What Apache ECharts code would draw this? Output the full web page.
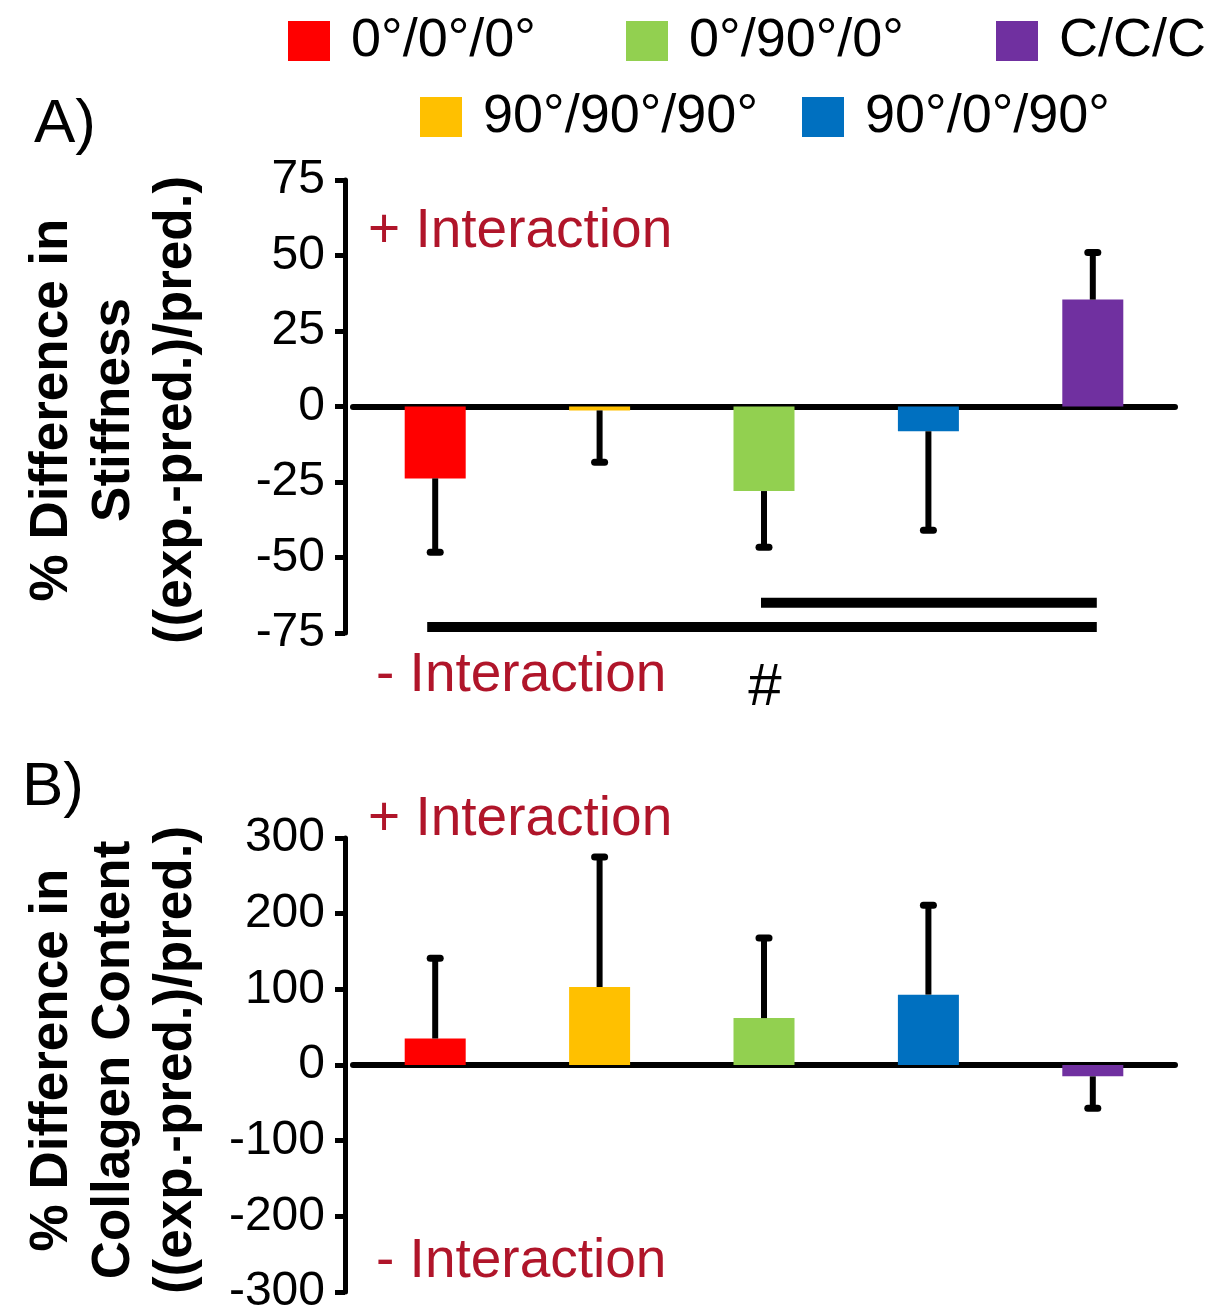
<!DOCTYPE html>
<html><head><meta charset="utf-8">
<script src="https://cdn.jsdelivr.net/npm/echarts@6/dist/echarts.min.js"></script>
<style>html,body{margin:0;padding:0;background:#fff}#c{width:1216px;height:1316px}</style>
</head><body><div id="c"></div>
<script>
// ---- data ----
const groups = ['0°/0°/0°', '90°/90°/90°', '0°/90°/0°', '90°/0°/90°', 'C/C/C'];
const colors = ['#FF0000', '#FFC000', '#92D050', '#0070C0', '#7030A0'];
const stiffMean = [-23.8, -1.3, -28.0, -8.2, 35.4];
const stiffSD = [24.5, 17.2, 18.6, 32.8, 15.6];
const collMean = [35, 103, 62, 93, -15];
const collSD = [106, 172, 106, 118, 42];
const stiffAxis = { min: -75, max: 75, interval: 25 };
const collAxis = { min: -300, max: 300, interval: 100 };
// significance bars in panel A: [fromIndex, toIndex, yValue]
const sigBars = [[2, 4, -65], [0, 4, -73]];

// ---- chart ----
const FONT = '"Liberation Sans", Arial, sans-serif';
const chart = echarts.init(document.getElementById('c'), null, { renderer: 'canvas' });

function barSeries(means, gi) {
  return groups.map((g, i) => ({
    type: 'bar', name: g, xAxisIndex: gi, yAxisIndex: gi,
    data: groups.map((_, j) => (j === i ? means[i] : '-')),
    barWidth: 61, barGap: '-100%',
    itemStyle: { color: colors[i] }, z: 2, silent: true
  }));
}
function errSeries(means, sds, gi) {
  return {
    type: 'custom', xAxisIndex: gi, yAxisIndex: gi, z: 3, silent: true,
    data: groups.map((g, i) => [i, means[i], means[i] + Math.sign(means[i]) * sds[i]]),
    encode: { x: 0, y: [1, 2] },
    renderItem: function (params, api) {
      const x = api.value(0);
      const p0 = api.coord([x, api.value(1)]);
      const p1 = api.coord([x, api.value(2)]);
      return { type: 'group', children: [
        { type: 'line', shape: { x1: p0[0], y1: p0[1], x2: p1[0], y2: p1[1] }, style: { stroke: '#000', lineWidth: 6 } },
        { type: 'line', shape: { x1: p1[0] - 5, y1: p1[1], x2: p1[0] + 5, y2: p1[1] }, style: { stroke: '#000', lineWidth: 7, lineCap: 'round' } }
      ] };
    }
  };
}

const axisCommonY = (ax) => ({
  type: 'value', min: ax.min, max: ax.max, interval: ax.interval, offset: 8,
  axisLine: { show: true, onZero: false, lineStyle: { color: '#000', width: 5 } },
  axisTick: { show: true, inside: false, length: 10, lineStyle: { color: '#000', width: 5 } },
  axisLabel: { color: '#000', fontSize: 48, fontFamily: FONT, margin: 20 },
  splitLine: { show: false }
});
const axisCommonX = (gi) => ({
  type: 'category', gridIndex: gi, data: groups,
  axisLine: { show: true, onZero: true, lineStyle: { color: '#000', width: 6 } },
  axisTick: { show: false }, axisLabel: { show: false }, splitLine: { show: false }
});

const sigSeries = {
  type: 'custom', xAxisIndex: 0, yAxisIndex: 0, z: 4, silent: true,
  data: sigBars, encode: { x: [0, 1], y: 2 },
  renderItem: function (params, api) {
    const a = api.coord([api.value(0), api.value(2)]);
    const b = api.coord([api.value(1), api.value(2)]);
    return { type: 'line', shape: { x1: a[0] - (api.value(0) === 0 ? 8 : 3), y1: a[1], x2: b[0] + 4, y2: b[1] },
      style: { stroke: '#000', lineWidth: 10 } };
  }
};

const legendStyle = {
  icon: 'rect', itemWidth: 42, itemHeight: 40, padding: 0, selectedMode: false,
  textStyle: { fontSize: 54, fontFamily: FONT, color: '#000', padding: [0, 0, 0, 16], lineHeight: 54 }
};
const legendItems = [
  { name: '0°/0°/0°', left: 288, top: 14 },
  { name: '0°/90°/0°', left: 626, top: 14 },
  { name: 'C/C/C', left: 996, top: 14 },
  { name: '90°/90°/90°', left: 420, top: 90 },
  { name: '90°/0°/90°', left: 802, top: 90 }
];

const red = '#B0152A';
function txt(text, x, y, size, color) {
  return { type: 'text', x: x, y: y, silent: true,
    style: { text: text, fontSize: size, fontFamily: FONT, fill: color,
      align: 'left', verticalAlign: 'middle', textAlign: 'left', textVerticalAlign: 'middle' } };
}
function yTitle(lines, cx, cy) {
  return { type: 'text', x: cx, y: cy, rotation: Math.PI / 2, silent: true,
    style: { text: lines.join('\n'), fontSize: 53, fontWeight: 'bold', fontFamily: FONT, fill: '#000',
      lineHeight: 62, align: 'center', verticalAlign: 'middle', textAlign: 'center', textVerticalAlign: 'middle' } };
}

const option = {
  backgroundColor: '#fff',
  animation: false,
  legend: legendItems.map(l => Object.assign({}, legendStyle, { data: [l.name], left: l.left, top: l.top })),
  grid: [
    { left: 353, right: 41, top: 180, height: 453 },
    { left: 353, right: 41, top: 838, height: 454 }
  ],
  xAxis: [axisCommonX(0), axisCommonX(1)],
  yAxis: [Object.assign(axisCommonY(stiffAxis), { gridIndex: 0 }), Object.assign(axisCommonY(collAxis), { gridIndex: 1 })],
  series: [].concat(
    barSeries(stiffMean, 0), [errSeries(stiffMean, stiffSD, 0)],
    barSeries(collMean, 1), [errSeries(collMean, collSD, 1)],
    [sigSeries]
  ),
  graphic: [
    txt('A)', 34, 125, 62, '#000'),
    txt('B)', 22, 788, 62, '#000'),
    txt('+ Interaction', 368, 232, 55, red),
    txt('- Interaction', 376, 676, 55, red),
    txt('+ Interaction', 368, 820, 55, red),
    txt('- Interaction', 376, 1262, 55, red),
    { type: 'text', x: 765, y: 688, silent: true, style: { text: '#', fontSize: 60, fontFamily: FONT, fill: '#000', align: 'center', verticalAlign: 'middle', textAlign: 'center', textVerticalAlign: 'middle' } },
    yTitle(['% Difference in', 'Stiffness', '((exp.-pred.)/pred.)'], 114, 410),
    yTitle(['% Difference in', 'Collagen Content', '((exp.-pred.)/pred.)'], 114, 1060)
  ]
};
chart.setOption(option);
</script>
</body></html>
